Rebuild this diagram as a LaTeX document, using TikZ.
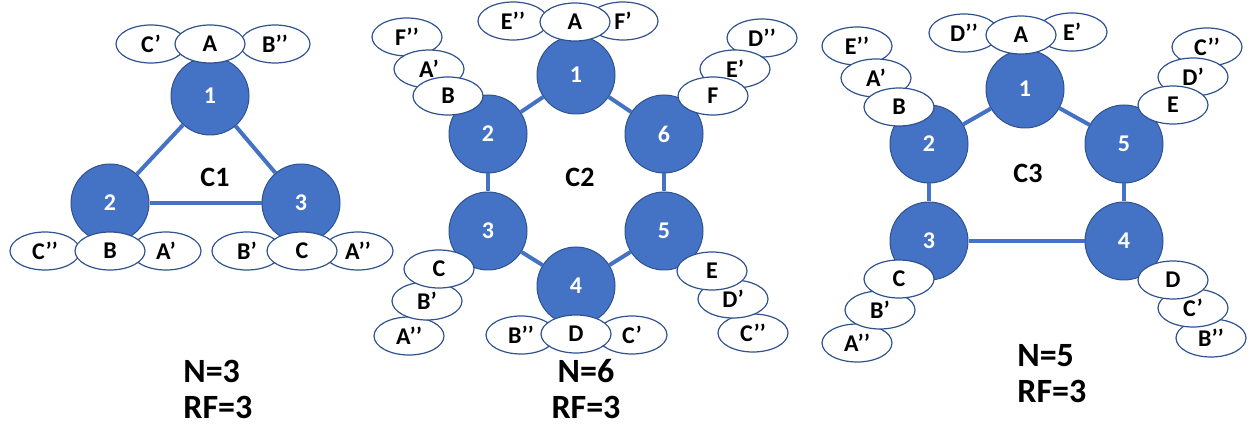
\documentclass[tikz,border=0pt]{standalone}
\usepackage{fontspec}
\setmainfont{Carlito}
\usetikzlibrary{shapes.geometric}
\definecolor{nodeblue}{HTML}{4472C4}
\definecolor{rimblue}{HTML}{2F528F}
\tikzset{
  srv/.style={circle,fill=nodeblue,draw=rimblue,line width=0.5pt,minimum size=39pt,inner sep=0pt,
    text=white,font=\bfseries\fontsize{12}{12}\selectfont},
  rep/.style={ellipse,fill=white,draw=rimblue,line width=0.6pt,minimum width=35pt,minimum height=19pt,
    inner sep=0pt,font=\bfseries\fontsize{12}{12}\selectfont},
  big/.style={font=\bfseries\fontsize{13.5}{13.5}\selectfont},
  link/.style={draw=nodeblue,line width=2pt},
  ring/.style={font=\bfseries\fontsize{14}{14}\selectfont},
  info/.style={font=\bfseries\fontsize{17}{18}\selectfont,inner sep=0pt}
}
\begin{document}
\begin{tikzpicture}[x=0.5pt,y=-0.5pt]
  \useasboundingbox (0,0) rectangle (1250,427);

  \begin{scope}[every node/.append style=big]
    \node[srv] (k1n1) at (210,96) {1};
    \node[srv] (k1n2) at (110,203) {2};
    \node[srv] (k1n3) at (301,203) {3};
    \node[ring] (k1lab) at (215,177) {C1};
    \node[rep] (k1C1) at (151,44) {C’};
    \node[rep] (k1B2) at (275,44) {B’’};
    \node[rep] (k1A0) at (210,44) {A};
    \node[rep] (k1C2) at (45,251) {C’’};
    \node[rep] (k1A1) at (166,251) {A’};
    \node[rep] (k1B0) at (110,251) {B};
    \node[rep] (k1B1) at (247,251) {B’};
    \node[rep] (k1A2) at (358,251) {A’’};
    \node[rep] (k1C0) at (302,251) {C};
  \end{scope}
  \foreach \u/\v in {k1n1/k1n2,k1n2/k1n3,k1n3/k1n1}
    \draw[link] (\u) -- (\v);
  \node[info,anchor=north west,align=left] (k1info) at (183,360) {N=3\\RF=3};

  \node[srv] (k2n1) at (576,75) {1};
  \node[srv] (k2n2) at (488,134) {2};
  \node[srv] (k2n3) at (488,231) {3};
  \node[srv] (k2n4) at (576,286) {4};
  \node[srv] (k2n5) at (664,231) {5};
  \node[srv] (k2n6) at (664,134) {6};
  \node[ring] (k2lab) at (580,177) {C2};
  \foreach \u/\v in {k2n1/k2n2,k2n2/k2n3,k2n3/k2n4,k2n4/k2n5,k2n5/k2n6,k2n6/k2n1}
    \draw[link] (\u) -- (\v);
  \node[rep] (k2E2) at (513,21) {E’’};
  \node[rep] (k2F1) at (623,21) {F’};
  \node[rep] (k2A0) at (575,22) {A};
  \node[rep] (k2F2) at (407,37) {F’’};
  \node[rep] (k2A1) at (429,69) {A’};
  \node[rep] (k2B0) at (448,96) {B};
  \node[rep] (k2D2) at (762,38) {D’’};
  \node[rep] (k2E1) at (735,69) {E’};
  \node[rep] (k2F0) at (713,96) {F};
  \node[rep] (k2A2) at (409,336) {A’’};
  \node[rep] (k2B1) at (427,301) {B’};
  \node[rep] (k2C0) at (439,269) {C};
  \node[rep] (k2C2) at (753,333) {C’’};
  \node[rep] (k2D1) at (733,299) {D’};
  \node[rep] (k2E0) at (712,271) {E};
  \node[rep] (k2B2) at (521,335) {B’’};
  \node[rep] (k2C1) at (632,335) {C’};
  \node[rep] (k2D0) at (576,334) {D};
  \node[info,anchor=north,align=center] (k2info) at (586,359) {N=6\\RF=3};

  \node[srv] (k3n1) at (1025,89) {1};
  \node[srv] (k3n2) at (929,144) {2};
  \node[srv] (k3n3) at (929,241) {3};
  \node[srv] (k3n4) at (1124,241) {4};
  \node[srv] (k3n5) at (1124,144) {5};
  \node[ring] (k3lab) at (1028,173) {C3};
  \foreach \u/\v in {k3n1/k3n2,k3n2/k3n3,k3n3/k3n4,k3n4/k3n5,k3n5/k3n1}
    \draw[link] (\u) -- (\v);
  \node[rep] (k3D2) at (964,33) {D’’};
  \node[rep] (k3E1) at (1072,32) {E’};
  \node[rep] (k3A0) at (1021,35) {A};
  \node[rep] (k3E2) at (857,46) {E’’};
  \node[rep] (k3A1) at (876,78) {A’};
  \node[rep] (k3B0) at (899,107) {B};
  \node[rep] (k3C2) at (1207,47) {C’’};
  \node[rep] (k3D1) at (1193,77) {D’};
  \node[rep] (k3E0) at (1173,105) {E};
  \node[rep] (k3A2) at (857,343) {A’’};
  \node[rep] (k3B1) at (880,310) {B’};
  \node[rep] (k3C0) at (899,279) {C};
  \node[rep] (k3B2) at (1211,338) {B’’};
  \node[rep] (k3C1) at (1193,308) {C’};
  \node[rep] (k3D0) at (1173,280) {D};
  \node[info,anchor=north west,align=left] (k3info) at (1017,344) {N=5\\RF=3};
\end{tikzpicture}
\end{document}
